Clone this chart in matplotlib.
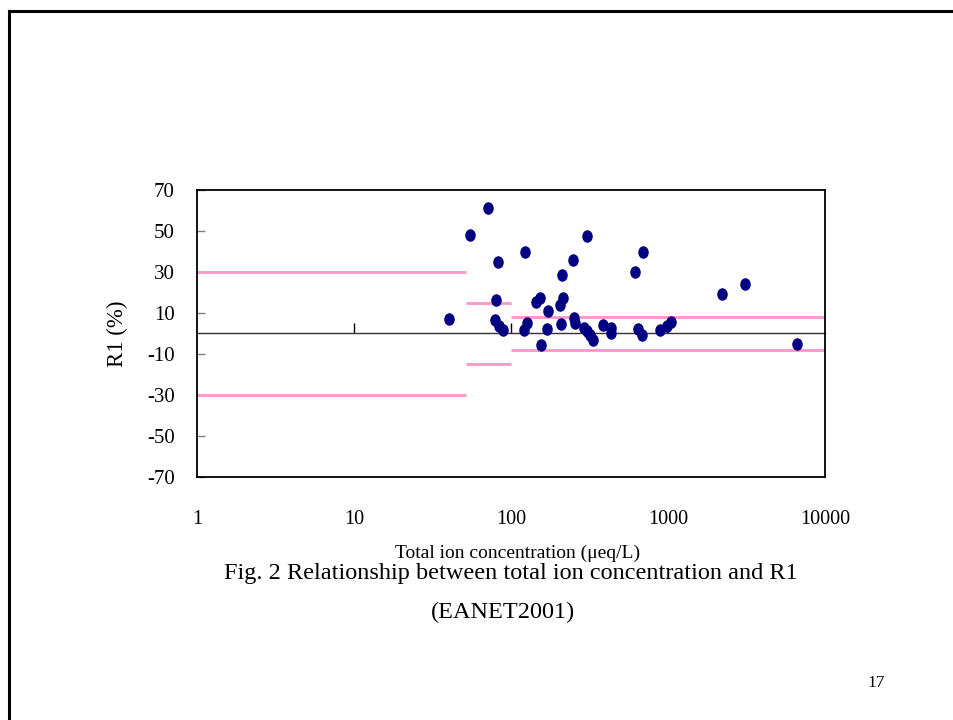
import numpy as np
import matplotlib
matplotlib.use("Agg")
import matplotlib.pyplot as plt
from matplotlib.path import Path
from matplotlib.lines import Line2D

plt.rcParams['font.family'] = ['Liberation Serif', 'DejaVu Serif']
plt.rcParams['axes.unicode_minus'] = False

# total ion concentration (ueq/L) and R1 (%)
conc = [40.5, 55, 71, 83, 80, 79.4, 84, 88.5, 123, 126, 121.6, 155, 144, 153,
        172, 169, 210, 250, 213.5, 205, 208, 253, 256, 306, 292, 306.5, 319,
        333, 387, 435, 433, 617, 690, 648, 678, 889, 990, 1040, 2200, 3090, 6640]
r1 = [7.3, 48.2, 61.0, 34.8, 16.1, 6.8, 3.6, 1.5, 39.9, 5.2, 1.5, -5.8, 15.2,
      17.4, 11.2, 2.4, 28.3, 35.7, 17.4, 14.1, 4.7, 7.5, 5.2, 47.6, 2.7, 1.4,
      -0.6, -3.3, 4.1, 2.6, 0.3, 29.9, 39.9, 2.4, -0.8, 1.6, 3.8, 5.8, 19.4,
      24.3, -5.3]

# allowable ranges of R1 (EANET criteria)
range_lo = [1, 52, 100]
range_hi = [52, 100, 10000]
range_lim = [30, 15, 8]

xticks = [1, 10, 100, 1000, 10000]
yticks = list(range(-70, 71, 20))

fig = plt.figure(figsize=(9.54, 7.2), dpi=100)
ax = fig.add_axes([197/954, 1 - 477/720, 628/954, 287/720])

# pink limit lines
for lo, hi, lim in zip(range_lo, range_hi, range_lim):
    ax.hlines([lim, -lim], lo, hi, colors='#FF99CC', linewidth=2.1, zorder=2)

# slightly tall oval marker
circ = Path.unit_circle()
oval = Path(circ.vertices * np.array([0.82, 1.0]), circ.codes)
ax.plot(conc, r1, linestyle='none', marker=oval, markersize=8,
        color='#000080', zorder=3)

ax.set_xscale('log')
ax.set_xlim(1, 10000)
ax.set_ylim(-70, 70)
ax.set_xticks(xticks)
ax.set_xticklabels([str(v) for v in xticks])
ax.xaxis.set_minor_locator(matplotlib.ticker.NullLocator())
ax.set_yticks(yticks)
ax.tick_params(axis='x', length=0, pad=24, labelsize=14.5)
ax.tick_params(axis='y', direction='in', length=6, width=1, color='#808080',
               pad=16, labelsize=15)
for sp in ax.spines.values():
    sp.set_linewidth(1.3)
    sp.set_color('black')

# zero line with its own ticks
sec = ax.secondary_xaxis(0.5)
sec.set_xticks(xticks[1:-1])
sec.set_xticklabels([])
sec.xaxis.set_minor_locator(matplotlib.ticker.NullLocator())
sec.tick_params(axis='x', direction='out', length=7, width=1, color='black')
for sp in sec.spines.values():
    sp.set_linewidth(1)
    sp.set_color('#333333')

ax.set_xlabel('Total ion concentration (μeq/L)', fontsize=14)
ax.xaxis.set_label_coords(0.51, -0.265)
ax.xaxis.label.set_va('center')
ax.set_ylabel('R1 (%)', fontsize=16.5)
ax.yaxis.set_label_coords((128 - 197) / 628, 0.5)

fig.text(511/954, 1 - 573/720, 'Fig. 2 Relationship between total ion concentration and R1',
         ha='center', va='center', fontsize=17.5)
fig.text(503/954, 1 - 612/720, '(EANET2001)', ha='center', va='center', fontsize=17.5)
fig.text(876/954, 1 - 683/720, '17', ha='center', va='center', fontsize=12.5)

# slide frame
fig.add_artist(Line2D([9/954, 9/954, 1], [0, 1 - 10.5/720, 1 - 10.5/720],
                      transform=fig.transFigure, color='black', linewidth=2.2,
                      solid_joinstyle='miter'))

fig.savefig('out.png', dpi=100)
